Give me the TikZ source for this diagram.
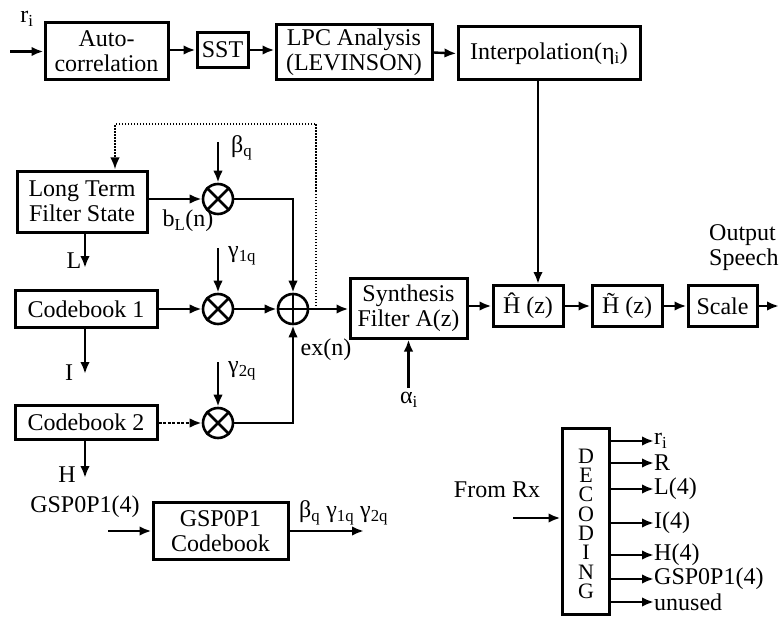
\documentclass[tikz,border=0pt]{standalone}
\usepackage{fontspec}
\setmainfont{Liberation Serif}
\usetikzlibrary{arrows.meta}
\begin{document}
\begin{tikzpicture}[x=1pt,y=-1pt,
  font=\fontsize{24}{25}\selectfont,
  box/.style={draw, line width=3pt, inner sep=0pt, align=center},
  arr/.style={line width=2.4pt, -{Latex[length=12pt,width=9.5pt]}},
  dots/.style={line width=2.2pt, dash pattern=on 1.5pt off 1.5pt},
  mul/.style={draw, circle, line width=2.6pt, minimum size=30pt, inner sep=0pt},
  lbl/.style={inner sep=0pt}]
\useasboundingbox (0,0) rectangle (779,623);
% boxes
\node[box, minimum width=123pt, minimum height=57pt] (auto) at (106.5,51.5) {Auto-\\correlation};
\node[box, minimum width=51pt, minimum height=35pt] (sst) at (222.5,50) {SST};
\node[box, minimum width=156pt, minimum height=55pt] (lpc) at (354,52.5) {LPC Analysis\\(LEVINSON)};
\node[box, minimum width=182pt, minimum height=53pt] (interp) at (549,53.5) {Interpolation(η\textsubscript{i})};
\node[box, minimum width=130pt, minimum height=61pt] (lts) at (82,201.5) {Long Term\\Filter State};
\node[box, minimum width=142pt, minimum height=37pt] (cb1) at (86,309) {Codebook 1};
\node[box, minimum width=142pt, minimum height=34pt] (cb2) at (86,422) {Codebook 2};
\node[box, minimum width=135pt, minimum height=57pt] (gsp) at (220.5,531) {GSP0P1\\Codebook};
\node[box, minimum width=117pt, minimum height=60pt] (synth) at (408.5,308) {Synthesis\\Filter A(z)};
\node[box, minimum width=70pt, minimum height=41pt] (hhat) at (528,306) {Ĥ (z)};
\node[box, minimum width=70pt, minimum height=41pt] (htil) at (627,306) {H̃ (z)};
\node[box, minimum width=69pt, minimum height=41pt] (scale) at (722.5,306) {Scale};
\node[box, minimum width=47pt, minimum height=186pt] (dec) at (585.5,521) {};
\foreach \c [count=\i] in {D,E,C,O,D,I,N,G}
  \node[lbl, font=\fontsize{22}{22}\selectfont] (d\i) at (586,{456+(\i-1)*19.3}) {\c};
% multipliers and adder
\node[mul] (mb) at (218,199) {};
\node[mul] (m1) at (218,309) {};
\node[mul] (m2) at (218,423) {};
\node[mul] (add) at (293,309) {};
\foreach \m in {mb,m1,m2}
  \draw[line width=2.6pt] (\m.north east) -- (\m.south west) (\m.north west) -- (\m.south east);
\draw[line width=2.6pt] (add.north) -- (add.south) (add.west) -- (add.east);
% labels
\node[lbl] (ri) at (27,19) {r\textsubscript{i}};
\node[lbl, anchor=west] (betal) at (231,148) {β\textsubscript{q}};
\node[lbl] (bl) at (188,221) {b\textsubscript{L}(n)};
\node[lbl] (Ll) at (74,261) {L};
\node[lbl, anchor=west] (g1l) at (228,256) {γ\textsubscript{1q}};
\node[lbl] (Il) at (69,373) {I};
\node[lbl, anchor=west] (g2l) at (228,371) {γ\textsubscript{2q}};
\node[lbl] (ex) at (326,350) {ex(n)};
\node[lbl] (Hl) at (67,475) {H};
\node[lbl] (gspl) at (85,507) {GSP0P1(4)};
\node[lbl, anchor=west] (bgg) at (299,513) {β\textsubscript{q} γ\textsubscript{1q} γ\textsubscript{2q}};
\node[lbl] (alpha) at (409,400) {α\textsubscript{i}};
\node[lbl] (fromrx) at (497,490) {From Rx};
\node[lbl, anchor=north west, align=left] (outsp) at (709,224) {Output\\Speech};
% coordinates
\coordinate (in) at (10,51.5);
\coordinate (bin) at (218,142);
\coordinate (g1in) at (218,248);
\coordinate (g2in) at (218,362);
\coordinate (ain) at (408.5,388);
\coordinate (gin) at (108,531);
\coordinate (gout) at (364,531);
\coordinate (out) at (779,306);
\coordinate (fb) at (316,309);
\coordinate (fbc) at (115,124);
\coordinate (rx) at (513,518);
\coordinate (Lend) at (85,268);
\coordinate (Iend) at (85,374);
\coordinate (Hend) at (85,478);
\coordinate (ivx) at (538,0);
% connectors
\draw[arr] (in) -- (auto.west);
\draw[arr] (auto.east |- sst.west) -- (sst.west);
\draw[arr] (sst.east) -- (sst.east -| lpc.west);
\draw[arr] (lpc.east) -- (interp.west);
\draw[arr] (ivx |- interp.south) -- (ivx |- hhat.north);
\draw[arr] (lts.east |- mb.west) -- (mb.west);
\draw[arr] (bin) -- (mb.north);
\draw[arr] (mb.east) -| (add.north);
\draw[arr] (Lend |- lts.south) -- (Lend);
\draw[arr] (g1in) -- (m1.north);
\draw[arr] (cb1.east) -- (m1.west);
\draw[arr] (m1.east) -- (add.west);
\draw[arr] (add.east) -- (synth.west |- add.east);
\draw[arr] (Iend |- cb1.south) -- (Iend);
\draw[arr] (g2in) -- (m2.north);
\draw[arr, dash pattern=on 3pt off 1.5pt] (cb2.east |- m2.west) -- (m2.west);
\draw[arr] (m2.east) -| (add.south);
\draw[arr] (Hend |- cb2.south) -- (Hend);
\draw[arr] (ain) -- (synth.south);
\draw[arr] (synth.east |- hhat.west) -- (hhat.west);
\draw[arr] (hhat.east) -- (htil.west);
\draw[arr] (htil.east) -- (scale.west);
\draw[arr] (scale.east) -- (out);
\draw[dots, -{Latex[length=12pt,width=9.5pt]}] (fb) |- (fbc) -- (fbc |- lts.north);
\draw[arr] (gin) -- (gsp.west);
\draw[arr] (gsp.east) -- (gout);
\draw[arr] (rx) -- (rx -| dec.west);
\foreach \y/\t [count=\k] in {441/r\textsubscript{i},463/R,489/L(4),523/I(4),555/H(4),579/GSP0P1(4),602/unused} {
  \coordinate (o\k) at (654,\y);
  \draw[arr] (dec.east |- o\k) -- (o\k);
  \node[lbl, anchor=west] (ol\k) at (o\k) {\t};
}
\end{tikzpicture}
\end{document}
